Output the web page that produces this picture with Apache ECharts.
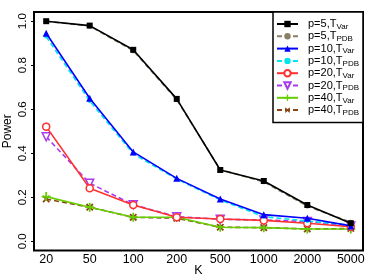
<!DOCTYPE html>
<html><head><meta charset="utf-8">
<script src="https://cdn.jsdelivr.net/npm/echarts@6/dist/echarts.min.js"></script>
<style>html,body{margin:0;padding:0;background:#fff}#c{width:374px;height:280px}</style>
</head><body><div id="c"></div>
<script>
const categories = ['20','50','100','200','500','1000','2000','5000'];
const yTicks = [0, 0.2, 0.4, 0.6, 0.8, 1.0];
const p5Var   = [1.000, 0.980, 0.870, 0.647, 0.324, 0.274, 0.165, 0.082];
const p5PDB   = [1.000, 0.978, 0.866, 0.644, 0.326, 0.270, 0.160, 0.086];
const p10Var  = [0.945, 0.650, 0.406, 0.286, 0.192, 0.121, 0.105, 0.070];
const p10PDB  = [0.930, 0.638, 0.398, 0.283, 0.188, 0.112, 0.092, 0.074];
const p20Var  = [0.521, 0.241, 0.165, 0.109, 0.101, 0.095, 0.082, 0.066];
const p20PDB  = [0.475, 0.264, 0.166, 0.112, 0.100, 0.097, 0.090, 0.070];
const p40Var  = [0.203, 0.155, 0.109, 0.109, 0.064, 0.062, 0.056, 0.056];
const p40PDB  = [0.192, 0.155, 0.109, 0.105, 0.064, 0.062, 0.056, 0.058];
const legendMain = ['p=5,T','p=5,T','p=10,T','p=10,T','p=20,T','p=20,T','p=40,T','p=40,T'];
const legendSub  = ['Var','PDB','Var','PDB','Var','PDB','Var','PDB'];

const plusPath = 'path://M4,0H6V4H10V6H6V10H4V6H0V4H4Z';
const styles = [
  {data:p5Var,  color:'#000000', dash:'solid',  symbol:'rect', size:6},
  {data:p5PDB,  color:'#8b7e66', dash:'dashed', symbol:'circle', size:5},
  {data:p10Var, color:'#0000ff', dash:'solid',  symbol:'triangle', size:7},
  {data:p10PDB, color:'#00e5ee', dash:'dashed', symbol:'circle', size:4},
  {data:p20Var, color:'#ff3030', dash:'solid',  symbol:'circle', size:7, hollow:true},
  {data:p20PDB, color:'#a83af0', dash:'dashed', symbol:'triangle', size:8, hollow:true, rot:180},
  {data:p40Var, color:'#66cd00', dash:'solid',  symbol:plusPath, size:9},
  {data:p40PDB, color:'#8b4513', dash:'dashed', symbol:plusPath, size:9, rot:45},
];
const names = legendMain.map((m,i)=>m+legendSub[i]);
const series = styles.map((s,i)=>({
  name: names[i],
  type: 'line',
  data: s.data.map((v,j)=>[j+1, v]),
  symbol: s.symbol,
  symbolSize: s.size,
  symbolRotate: s.rot || 0,
  showAllSymbol: true,
  color: s.color,
  lineStyle: {color: s.color, width: 1.6, type: s.dash === 'dashed' ? [5,3] : 'solid'},
  itemStyle: s.hollow ? {color:'#fff', borderColor:s.color, borderWidth:1.5} : {color:s.color, borderWidth:0},
  animation: false,
  z: 10 - i
}));

const chart = echarts.init(document.getElementById('c'), null, {renderer:'canvas'});
chart.setOption({
  animation: false,
  textStyle: {fontFamily: 'Liberation Sans'},
  grid: {left: 34, right: 11, top: 12, bottom: 29.5, containLabel: false, outerBoundsMode: 'none', show: true, borderColor: '#000', borderWidth: 2, backgroundColor:'transparent'},
  xAxis: {
    type: 'value', min: 0.72, max: 8.28,
    axisLine: {show: false}, splitLine: {show: false},
    axisTick: {show: false},
    axisLabel: {customValues: categories.map((c,i)=>i+1), formatter: v => categories[Math.round(v)-1], color:'#000', fontSize: 12.5, margin: 3, fontFamily:'Liberation Sans'},
    name: 'K', nameLocation: 'middle', nameGap: 14, nameMoveOverlap: false, nameTextStyle: {color:'#000', fontSize: 12.5, fontFamily:'Liberation Sans'}
  },
  yAxis: {
    type: 'value', min: -0.0418, max: 1.0418,
    axisLine: {show: false}, splitLine: {show: false},
    axisTick: {show: true, customValues: yTicks, length: 3, lineStyle: {color:'#000', width: 1}},
    axisLabel: {customValues: yTicks, formatter: v => v.toFixed(1), rotate: 90, color:'#000', fontSize: 11.5, margin: 5, fontFamily:'Liberation Sans'},
    name: 'Power', nameLocation: 'middle', nameGap: 20, nameMoveOverlap: false, nameRotate: 90, nameTextStyle: {color:'#000', fontSize: 12, fontFamily:'Liberation Sans'}
  },
  legend: {
    orient: 'vertical', left: 273, top: 12,
    padding: [6.5, 4, 6, 3],
    itemWidth: 21, itemHeight: 8, itemGap: 0.3,
    backgroundColor: '#fff', borderColor: '#000', borderWidth: 1.5,
    data: names,
    formatter: n => { const i = names.indexOf(n); return '{m|' + legendMain[i] + '}{s|' + legendSub[i] + '}'; },
    textStyle: {
      padding: [0,0,0,5],
      rich: {
        m: {fontSize: 11, lineHeight: 13, color:'#000', fontFamily:'Liberation Sans'},
        s: {fontSize: 8, lineHeight: 13, color:'#000', fontFamily:'Liberation Sans', verticalAlign:'bottom', padding:[4,0,0,0]}
      }
    }
  },
  series: series
});
</script>
</body></html>
